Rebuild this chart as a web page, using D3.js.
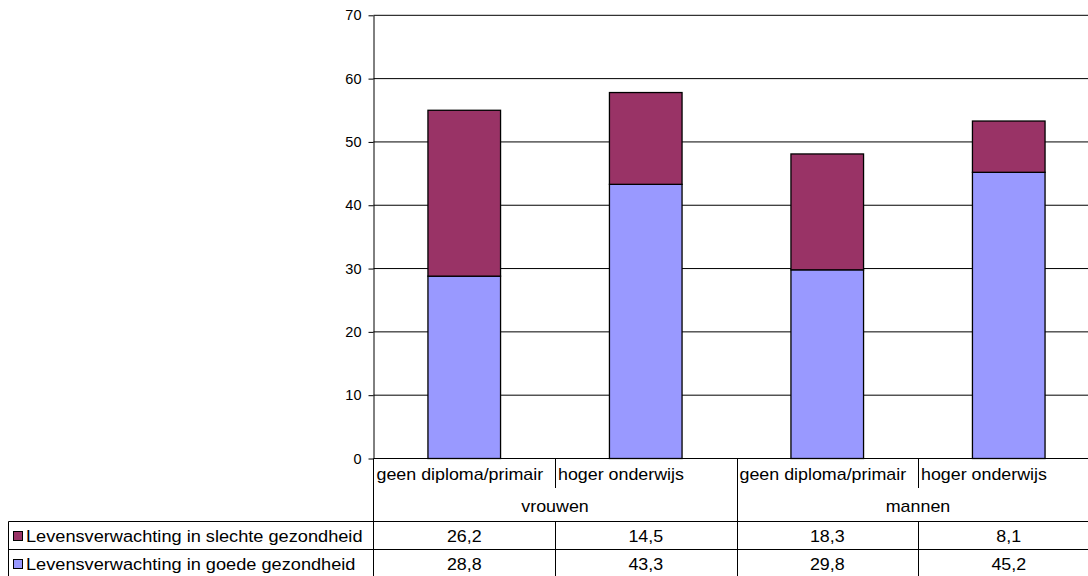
<!DOCTYPE html>
<html>
<head>
<meta charset="utf-8">
<script src="https://cdn.jsdelivr.net/npm/d3@7"></script>
<style>
  html, body { margin: 0; padding: 0; background: #fff; overflow: hidden; }
  svg { display: block; font-family: "Liberation Sans", Arial, sans-serif; }
</style>
</head>
<body>
<svg id="chart" width="1088" height="576"></svg>
<script>
// ---- data ----
const groups = ["vrouwen", "mannen"];
const categories = ["geen diploma/primair", "hoger onderwijs", "geen diploma/primair", "hoger onderwijs"];
const seriesNames = ["Levensverwachting in slechte gezondheid", "Levensverwachting in goede gezondheid"];
const slechteValues = [26.2, 14.5, 18.3, 8.1];
const goedeValues = [28.8, 43.3, 29.8, 45.2];
const tableLabels = [["26,2", "14,5", "18,3", "8,1"], ["28,8", "43,3", "29,8", "45,2"]];
const yTicks = [0, 10, 20, 30, 40, 50, 60, 70];
const colors = { slechte: "#993366", goede: "#9999FF" };

// ---- layout ----
const svg = d3.select("#chart");
const plotLeft = 373.5, plotRight = 1099.5;
const plotTop = 15.3, plotBottom = 458.5;
const rowCat = 488, rowGroup = 521.5, row1 = 549.5, row2 = 577.5;
const legendLeft = 8.5;
const tableFont = 17, textScale = 1.05, legendScale = 1.07;

const x = d3.scaleBand().domain(d3.range(categories.length)).range([plotLeft, plotRight]).paddingInner(0).paddingOuter(0);
const y = d3.scaleLinear().domain([0, 70]).range([plotBottom, plotTop]);

// gridlines
svg.append("g").selectAll("line").data(yTicks.filter(d => d > 0)).join("line")
  .attr("x1", plotLeft).attr("x2", plotRight)
  .attr("y1", d => y(d)).attr("y2", d => y(d))
  .attr("stroke", "#000").attr("stroke-width", 1);

// stacked bars
const stackData = categories.map((c, i) => ({ i, goede: goedeValues[i], slechte: slechteValues[i] }));
const stack = d3.stack().keys(["goede", "slechte"]);
const series = stack(stackData);
const barW = x.bandwidth() * 0.4;
svg.append("g").selectAll("g").data(series).join("g")
  .attr("fill", d => colors[d.key])
  .selectAll("rect").data(d => d).join("rect")
  .attr("x", d => x(d.data.i) + (x.bandwidth() - barW) / 2)
  .attr("width", barW)
  .attr("y", d => y(d[1]))
  .attr("height", d => y(d[0]) - y(d[1]))
  .attr("stroke", "#000").attr("stroke-width", 1.3);

// y axis
const axis = d3.axisLeft(y).tickValues(yTicks).tickSize(5).tickSizeOuter(0).tickPadding(7);
const ag = svg.append("g").attr("transform", `translate(${plotLeft},0)`).call(axis);
ag.select(".domain").attr("stroke", "#000");
ag.selectAll(".tick line").attr("stroke", "#000");
ag.selectAll(".tick text").attr("font-size", 14.5).attr("fill", "#000")
  .attr("font-family", "'Liberation Sans', Arial, sans-serif");

// ---- data table ----
const tg = svg.append("g");
function hline(x1, x2, yy) {
  tg.append("line").attr("x1", x1).attr("x2", x2).attr("y1", yy).attr("y2", yy)
    .attr("stroke", "#000").attr("stroke-width", 1);
}
function vline(xx, y1, y2) {
  tg.append("line").attr("x1", xx).attr("x2", xx).attr("y1", y1).attr("y2", y2)
    .attr("stroke", "#000").attr("stroke-width", 1);
}
function txt(s, tx, ty, anchor, sc) {
  tg.append("text").text(s)
    .attr("transform", `translate(${tx},${ty}) scale(${sc || textScale},1)`)
    .attr("text-anchor", anchor).attr("font-size", tableFont).attr("fill", "#000");
}

hline(plotLeft, plotRight, plotBottom);
hline(legendLeft, plotRight, rowGroup);
hline(legendLeft, plotRight, row1);
hline(legendLeft, plotRight, row2);
vline(legendLeft, rowGroup, row2);
vline(plotLeft, plotBottom, row2);
// category boundaries
categories.forEach((c, i) => {
  const bx = x(i) + x.bandwidth();
  const isGroupEdge = (i % 2 === 1);
  if (isGroupEdge) vline(Math.round(bx) + 0.5, plotBottom, row2);
  else { vline(Math.round(bx) + 0.5, plotBottom, rowCat); vline(Math.round(bx) + 0.5, rowGroup, row2); }
});

// category labels
categories.forEach((c, i) => txt(c, x(i) + 3, 480, "start"));
// group labels
groups.forEach((g, gi) => {
  const cx = x(gi * 2) + x.bandwidth();
  txt(g, cx, 512, "middle");
});
// values
tableLabels.forEach((row, ri) => {
  row.forEach((v, i) => txt(v, x(i) + x.bandwidth() / 2, ri === 0 ? 542 : 570, "middle"));
});
// legend cells
const legendKeys = ["slechte", "goede"];
seriesNames.forEach((name, ri) => {
  const base = ri === 0 ? 542 : 570;
  tg.append("rect").attr("x", 13.5).attr("y", base - 10.5).attr("width", 9).attr("height", 9)
    .attr("fill", colors[legendKeys[ri]]).attr("stroke", "#000").attr("stroke-width", 1);
  txt(name, 26, base, "start", legendScale);
});
</script>
</body>
</html>
